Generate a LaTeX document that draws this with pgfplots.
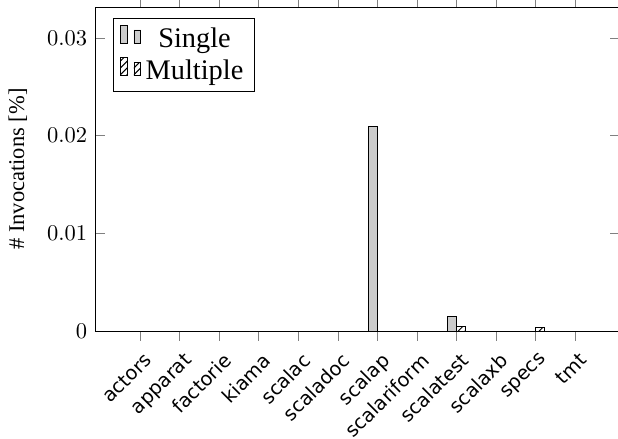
\documentclass[border=0pt]{standalone}
\usepackage{fontspec}
\setmainfont{Liberation Serif}
\newfontfamily\tickfont{DejaVu Sans}
\usepackage{pgfplots}
\pgfplotsset{compat=1.18}
\usetikzlibrary{patterns}
\begin{document}
\begin{tikzpicture}
\begin{axis}[
  scale only axis=true,
  width=233.3pt, height=144pt,
  ybar=0pt, bar width=4pt,
  xmin=-1.14, xmax=12.14,
  ymin=0, ymax=0.03317,
  xtick={0,1,2,3,4,5,6,7,8,9,10,11},
  xticklabels={actors,apparat,factorie,kiama,scalac,scaladoc,scalap,scalariform,scalatest,scalaxb,specs,tmt},
  xticklabel style={rotate=45, anchor=north east, font=\tickfont\fontsize{8.6}{10}\selectfont, yshift=-1pt, xshift=1pt},
  xtick align=outside,
  ytick align=inside,
  ytick={0,0.01,0.02,0.03},
  scaled y ticks=false,
  yticklabel style={/pgf/number format/fixed, /pgf/number format/precision=2},
  tick style={gray},
  ylabel={\# Invocations [$\%$]},
  ylabel style={yshift=2pt},
  legend style={at={(0.034,0.966)}, anchor=north west, font=\fontsize{12.6}{15}\selectfont, draw=black},
  legend cell align=center,
]
\addplot[draw=black, fill=gray!40] coordinates {
  (0,0) (1,0) (2,0) (3,0) (4,0) (5,0) (6,0.0209) (7,0) (8,0.00145) (9,0) (10,0) (11,0)
};
\addplot[draw=black, pattern=north east lines] coordinates {
  (0,0) (1,0) (2,0) (3,0) (4,0) (5,0) (6,0) (7,0) (8,0.00048) (9,0) (10,0.00034) (11,0)
};
\legend{Single,Multiple}
\end{axis}
\pgfresetboundingbox
\path[use as bounding box] ([shift={(-42.2pt,-47.6pt)}]current axis.south west) rectangle ([shift={(-0.9pt,3.1pt)}]current axis.north east);
\end{tikzpicture}
\end{document}
